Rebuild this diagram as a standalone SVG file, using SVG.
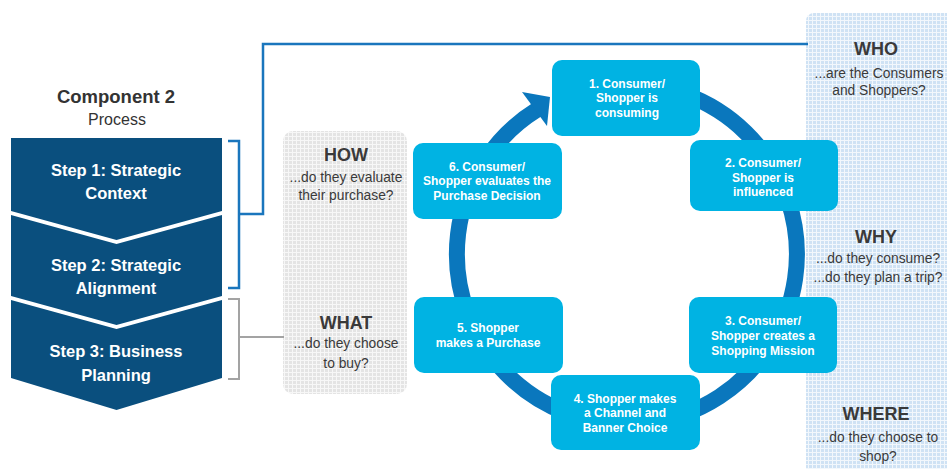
<svg xmlns="http://www.w3.org/2000/svg" width="947" height="469" viewBox="0 0 947 469">
<defs>
<pattern id="pBlue" width="4" height="4" patternUnits="userSpaceOnUse">
<rect width="4" height="4" fill="#cfe2f4"/>
<path d="M0 0.5H4M0.5 0V4" stroke="#f2f7fc" stroke-width="1"/>
</pattern>
<pattern id="pGray" width="4" height="4" patternUnits="userSpaceOnUse">
<rect width="4" height="4" fill="#e4e4e4"/>
<path d="M0 0.5H4M0.5 0V4" stroke="#f7f7f7" stroke-width="1"/>
</pattern>
<style>
.step{fill:#0a4f7e}
.stepT{font-family:"Liberation Sans",Arial,sans-serif;font-weight:bold;font-size:16.5px;fill:#fff;text-anchor:middle}
.node{fill:#00b3e3}
.nodeT{font-family:"Liberation Sans",Arial,sans-serif;font-weight:bold;font-size:12px;fill:#fff;text-anchor:middle}
.hd{font-family:"Liberation Sans",Arial,sans-serif;font-weight:bold;font-size:18px;fill:#3a3a3a;text-anchor:middle}
.sub{font-family:"Liberation Sans",Arial,sans-serif;font-size:13.8px;fill:#3a3a3a;text-anchor:middle}
.blue{fill:none;stroke:#1a76bd;stroke-width:2.5}
.gray{fill:none;stroke:#a3a3a3;stroke-width:2}
</style>
</defs>
<rect width="947" height="469" fill="#fff"/>

<g id="panel-right">
<rect x="806" y="13" width="170" height="480" rx="8" fill="url(#pBlue)"/>
<text class="hd" x="876" y="55">WHO</text>
<text class="sub" x="879" y="78">...are the Consumers</text>
<text class="sub" x="879" y="95">and Shoppers?</text>
<text class="hd" x="876" y="243">WHY</text>
<text class="sub" x="878" y="263">...do they consume?</text>
<text class="sub" x="878" y="282">...do they plan a trip?</text>
<text class="hd" x="876" y="420">WHERE</text>
<text class="sub" x="878" y="442">...do they choose to</text>
<text class="sub" x="878" y="461">shop?</text>
</g>

<g id="panel-left">
<rect x="283" y="131" width="124" height="263" rx="10" fill="url(#pGray)"/>
<text class="hd" x="346" y="161">HOW</text>
<text class="sub" x="346" y="182">...do they evaluate</text>
<text class="sub" x="346" y="200">their purchase?</text>
<text class="hd" x="346" y="329">WHAT</text>
<text class="sub" x="346" y="348">...do they choose</text>
<text class="sub" x="346" y="368">to buy?</text>
</g>

<g id="title">
<text x="116" y="103" font-family="Liberation Sans,Arial,sans-serif" font-weight="bold" font-size="18.5" fill="#333" text-anchor="middle">Component 2</text>
<text x="117" y="125" font-family="Liberation Sans,Arial,sans-serif" font-size="16" fill="#333" text-anchor="middle">Process</text>
</g>

<g id="step1">
<polygon class="step" points="11,138 222,138 222,211 116.5,240 11,211"/>
<text class="stepT" x="116" y="176">Step 1: Strategic</text>
<text class="stepT" x="116" y="199">Context</text>
</g>
<g id="step2">
<polygon class="step" points="11,215 116.5,244 222,215 222,296 116.5,325 11,296"/>
<text class="stepT" x="116" y="271">Step 2: Strategic</text>
<text class="stepT" x="116" y="294">Alignment</text>
</g>
<g id="step3">
<polygon class="step" points="11,300 116.5,329 222,300 222,378 116.5,410 11,378"/>
<text class="stepT" x="116" y="357">Step 3: Business</text>
<text class="stepT" x="116" y="381">Planning</text>
</g>

<g id="connectors">
<path class="blue" d="M228 141H239V288H228"/>
<path class="blue" d="M239 214H263V44H808"/>
<path class="gray" d="M228 299H239V379H228"/>
<path class="gray" d="M239 337H284"/>
<path d="M536.9 109.8A170 170 0 1 0 685.1 94.3" fill="none" stroke="#0a77bd" stroke-width="16"/>
<polygon points="522,92 550,97 547,126" fill="#0a77bd"/>
</g>

<g id="node1">
<rect class="node" x="552" y="60" width="148" height="76" rx="10"/>
<text class="nodeT" x="627" y="88">1. Consumer/</text>
<text class="nodeT" x="627" y="102">Shopper is</text>
<text class="nodeT" x="627" y="117">consuming</text>
</g>
<g id="node2">
<rect class="node" x="690" y="140" width="148" height="71" rx="10"/>
<text class="nodeT" x="763" y="167">2. Consumer/</text>
<text class="nodeT" x="763" y="182">Shopper is</text>
<text class="nodeT" x="763" y="196">influenced</text>
</g>
<g id="node3">
<rect class="node" x="689" y="297" width="148" height="76" rx="10"/>
<text class="nodeT" x="763" y="325">3. Consumer/</text>
<text class="nodeT" x="763" y="340">Shopper creates a</text>
<text class="nodeT" x="763" y="355">Shopping Mission</text>
</g>
<g id="node4">
<rect class="node" x="551" y="375" width="149" height="75" rx="10"/>
<text class="nodeT" x="625" y="403">4. Shopper makes</text>
<text class="nodeT" x="625" y="417">a Channel and</text>
<text class="nodeT" x="625" y="432">Banner Choice</text>
</g>
<g id="node5">
<rect class="node" x="414" y="297" width="149" height="76" rx="10"/>
<text class="nodeT" x="488" y="332">5. Shopper</text>
<text class="nodeT" x="488" y="347">makes a Purchase</text>
</g>
<g id="node6">
<rect class="node" x="413" y="143" width="149" height="76" rx="10"/>
<text class="nodeT" x="487" y="171">6. Consumer/</text>
<text class="nodeT" x="487" y="185">Shopper evaluates the</text>
<text class="nodeT" x="487" y="200">Purchase Decision</text>
</g>
</svg>
